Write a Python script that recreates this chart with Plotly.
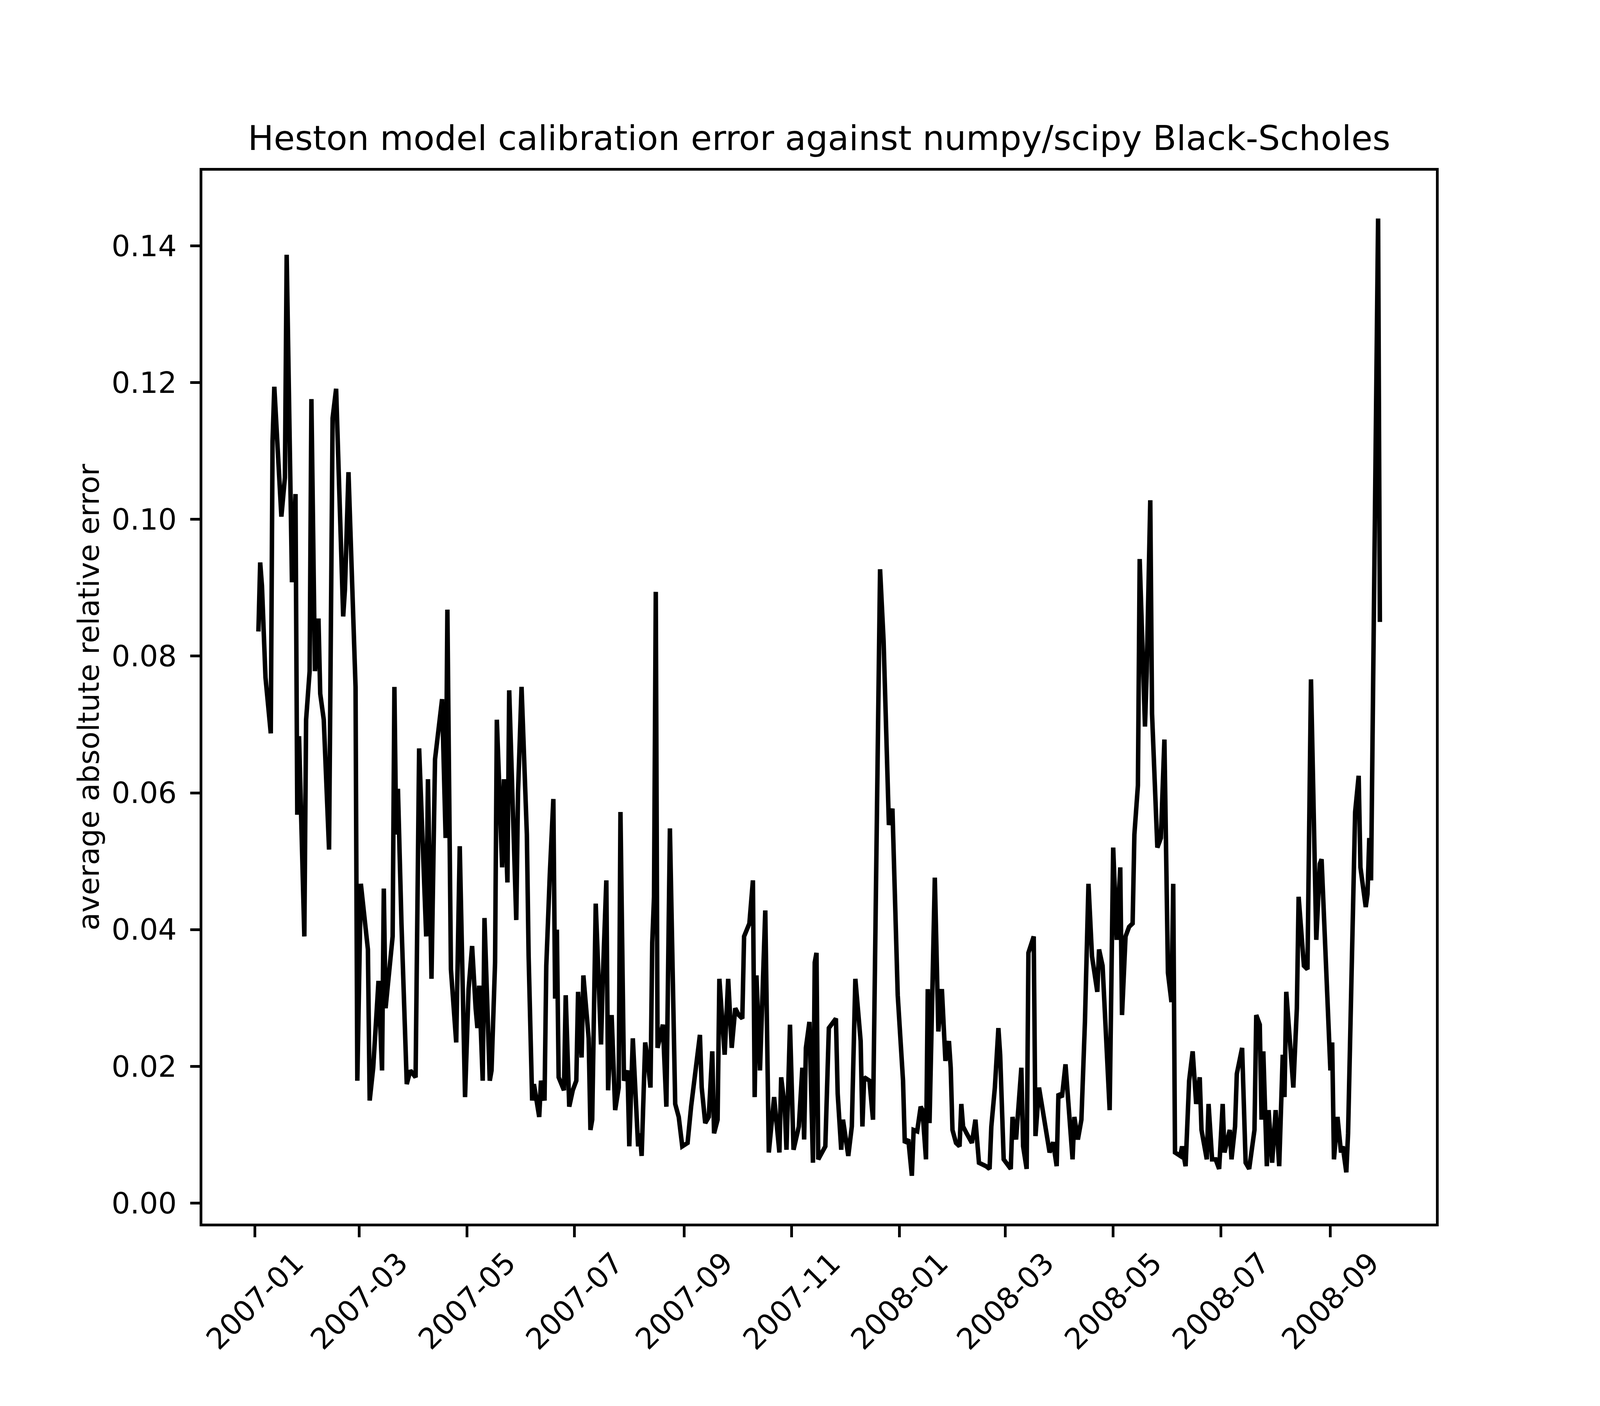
import pandas as pd
import plotly.graph_objects as go

# ================= DATA =================
# x: calendar days since 2007-01-01, y: average absolute relative error
START = "2007-01-01"

DAYS = [
    2, 3, 4, 6, 9, 10, 11, 15, 17, 18, 21, 23, 24, 25, 28, 29, 31, 32, 34, 36,
    37, 39, 42, 43, 44, 46, 50, 51, 53, 57, 58, 60, 64, 65, 67, 70, 72, 73, 74, 78,
    79, 80, 81, 83, 86, 88, 91, 93,
    97, 98, 100, 102, 104, 106, 108, 109, 111, 114, 116, 119, 121, 123, 125, 126, 127, 129, 130, 133,
    134, 136, 137, 140, 141, 143, 144, 148, 149, 151, 154, 155, 157, 158, 161, 162, 164, 165, 167, 169,
    170, 171, 172, 175, 176, 178, 180, 182, 183, 185, 186, 189, 190, 191, 193,
    196, 197, 199, 200, 202, 204, 206, 207, 209, 211, 212, 214, 217, 218, 219, 221, 222, 224, 225, 226,
    227, 228, 230, 231, 233, 235, 238, 240, 242, 245, 247, 249, 252, 253, 255, 257, 259, 260, 262, 263,
    266, 268, 270, 272, 274, 276, 277, 280, 282, 283, 284, 286, 289,
    291, 293, 294, 297, 298, 300, 301, 303, 305, 308, 310, 311, 312, 314, 316, 317, 318, 319, 321, 323,
    325, 329, 330, 332, 333, 336, 338, 339, 340, 343, 344, 345, 348, 350, 351, 352, 354, 356, 358, 359,
    361, 364, 367, 368, 370, 372, 373, 375, 377, 378, 380, 381, 382, 385, 387,
    389, 391, 393, 394, 395, 397, 399, 400, 401, 403, 406, 408, 409, 410, 414, 416, 417, 419, 421, 422,
    424, 427, 428, 429, 431, 434, 435, 437, 438, 441, 442, 444, 447, 450, 452, 454, 455, 457, 459, 461,
    463, 464, 466, 468, 470, 472, 474, 477, 478, 480, 482, 484,
    486, 488, 490, 491, 493, 495, 497, 498, 500, 501, 504, 505, 507, 508, 511, 513, 515, 517, 519, 520,
    521, 524, 525, 527, 529, 531, 533, 535, 536, 539, 540, 542, 544, 546, 548, 549, 552, 553, 555, 556,
    559, 561, 563, 566, 567, 569, 570, 571, 573, 574, 576, 578, 580, 582,
    583, 584, 588, 590, 591, 594, 596, 597, 598, 601, 603, 604, 609, 610, 611, 613, 615, 616, 618, 619,
    621, 623, 625, 626, 629, 630, 631, 632, 636, 637,
]

ERRORS = [
    0.0836, 0.0937, 0.0903, 0.0769, 0.0687, 0.1114, 0.1194, 0.1004, 0.1061, 0.1387,
    0.0908, 0.1037, 0.0568, 0.0683, 0.0390, 0.0707, 0.0778, 0.1176, 0.0778, 0.0855,
    0.0745, 0.0707, 0.0517, 0.0927, 0.1148, 0.1191, 0.0858, 0.0898, 0.1069, 0.0755,
    0.0179, 0.0467, 0.0371, 0.0150, 0.0198, 0.0325, 0.0194, 0.0460, 0.0285, 0.0390,
    0.0755, 0.0539, 0.0606, 0.0409, 0.0174, 0.0194, 0.0184, 0.0665,
    0.0390, 0.0620, 0.0328, 0.0649, 0.0692, 0.0737, 0.0534, 0.0868, 0.0342, 0.0235,
    0.0522, 0.0155, 0.0313, 0.0376, 0.0285, 0.0256, 0.0318, 0.0179, 0.0417, 0.0179,
    0.0194, 0.0352, 0.0707, 0.0491, 0.0620, 0.0469, 0.0750, 0.0414, 0.0601, 0.0755,
    0.0539, 0.0361, 0.0150, 0.0174, 0.0126, 0.0179, 0.0150, 0.0347, 0.0481, 0.0591,
    0.0299, 0.0400, 0.0184, 0.0165, 0.0304, 0.0141, 0.0165, 0.0179, 0.0309, 0.0213,
    0.0333, 0.0241, 0.0107, 0.0122, 0.0438,
    0.0232, 0.0328, 0.0472, 0.0165, 0.0275, 0.0136, 0.0169, 0.0572, 0.0179, 0.0194,
    0.0083, 0.0241, 0.0083, 0.0102, 0.0069, 0.0235, 0.0218, 0.0169, 0.0381, 0.0448,
    0.0894, 0.0227, 0.0251, 0.0261, 0.0141, 0.0548, 0.0145, 0.0126, 0.0083, 0.0088,
    0.0141, 0.0189, 0.0246, 0.0169, 0.0117, 0.0126, 0.0222, 0.0102, 0.0122, 0.0328,
    0.0217, 0.0328, 0.0227, 0.0285, 0.0275, 0.0270, 0.0390, 0.0409, 0.0472, 0.0155,
    0.0333, 0.0194, 0.0428,
    0.0074, 0.0131, 0.0155, 0.0074, 0.0184, 0.0141, 0.0078, 0.0261, 0.0078, 0.0112,
    0.0198, 0.0093, 0.0227, 0.0265, 0.0059, 0.0352, 0.0366, 0.0064, 0.0074, 0.0083,
    0.0256, 0.0270, 0.0160, 0.0078, 0.0122, 0.0069, 0.0112, 0.0256, 0.0328, 0.0237,
    0.0112, 0.0184, 0.0179, 0.0122, 0.0333, 0.0596, 0.0927, 0.0822, 0.0659, 0.0553,
    0.0577, 0.0304, 0.0179, 0.0088, 0.0093, 0.0040, 0.0107, 0.0105, 0.0141, 0.0136,
    0.0064, 0.0313, 0.0117, 0.0476, 0.0251,
    0.0313, 0.0208, 0.0237, 0.0198, 0.0107, 0.0088, 0.0083, 0.0145, 0.0112, 0.0102,
    0.0088, 0.0122, 0.0093, 0.0059, 0.0054, 0.0050, 0.0112, 0.0169, 0.0256, 0.0217,
    0.0064, 0.0054, 0.0050, 0.0126, 0.0093, 0.0198, 0.0083, 0.0050, 0.0366, 0.0390,
    0.0098, 0.0169, 0.0122, 0.0074, 0.0089, 0.0054, 0.0160, 0.0155, 0.0203, 0.0131,
    0.0064, 0.0126, 0.0093, 0.0122, 0.0265, 0.0467, 0.0361, 0.0309, 0.0371, 0.0347,
    0.0232, 0.0136,
    0.0520, 0.0385, 0.0491, 0.0275, 0.0390, 0.0404, 0.0409, 0.0539, 0.0611, 0.0942,
    0.0697, 0.0778, 0.1028, 0.0716, 0.0520, 0.0534, 0.0678, 0.0337, 0.0294, 0.0467,
    0.0074, 0.0069, 0.0083, 0.0054, 0.0179, 0.0222, 0.0145, 0.0184, 0.0107, 0.0064,
    0.0145, 0.0064, 0.0064, 0.0050, 0.0145, 0.0074, 0.0107, 0.0064, 0.0112, 0.0189,
    0.0227, 0.0059, 0.0050, 0.0107, 0.0275, 0.0261, 0.0122, 0.0222, 0.0054, 0.0136,
    0.0059, 0.0136, 0.0054, 0.0217,
    0.0155, 0.0309, 0.0169, 0.0285, 0.0448, 0.0347, 0.0342, 0.0558, 0.0766, 0.0385,
    0.0496, 0.0503, 0.0194, 0.0235, 0.0064, 0.0126, 0.0074, 0.0083, 0.0045, 0.0102,
    0.0381, 0.0572, 0.0625, 0.0491, 0.0433, 0.0452, 0.0534, 0.0472, 0.1440, 0.0850,
]

TICK_DATES = ["2007-01-01", "2007-03-01", "2007-05-01", "2007-07-01", "2007-09-01", "2007-11-01",
              "2008-01-01", "2008-03-01", "2008-05-01", "2008-07-01", "2008-09-01"]
TICK_LABELS = ["2007-01", "2007-03", "2007-05", "2007-07", "2007-09", "2007-11",
               "2008-01", "2008-03", "2008-05", "2008-07", "2008-09"]
Y_TICKS = [0.00, 0.02, 0.04, 0.06, 0.08, 0.10, 0.12, 0.14]

TITLE = "Heston model calibration error against numpy/scipy Black-Scholes"
Y_LABEL = "average absoltute relative error"

# ================= STYLE =================
# the browser viewport comes out about 4096 x 3600 css px, so the figure is laid out
# to fill that frame in the same proportions as the 4800 x 3600 original
FIG_W, FIG_H = 4076, 3572
SX = FIG_W / 4800
SY = FIG_H / 3600

FONT = "DejaVu Sans"
TICK_FONT = 75
TITLE_FONT = 88
SPINE = 6.5

# ================= BUILD =================
dates = pd.Timestamp(START) + pd.to_timedelta(DAYS, unit="D")

# matplotlib-like 5% autoscale margins
x_span = dates.max() - dates.min()
x_range = [dates.min() - 0.05 * x_span, dates.max() + 0.05 * x_span]
y_lo, y_hi = min(ERRORS), max(ERRORS)
y_pad = 0.05 * (y_hi - y_lo)
y_range = [y_lo - y_pad, y_hi + y_pad]

fig = go.Figure()
fig.add_trace(go.Scatter(x=dates, y=ERRORS, mode="lines",
                         line=dict(color="black", width=11.5), showlegend=False))

axis_style = dict(showgrid=False, zeroline=False, showline=True, linewidth=SPINE,
                  linecolor="black", mirror=True, ticks="outside",
                  tickwidth=SPINE, tickcolor="black")

fig.update_xaxes(type="date", range=x_range, tickvals=TICK_DATES,
                 showticklabels=False, ticklen=28 * SY, **axis_style)
fig.update_yaxes(range=y_range, tickvals=Y_TICKS,
                 ticktext=[f"{v:.2f}" for v in Y_TICKS],
                 tickfont=dict(size=TICK_FONT, family=FONT, color="black"),
                 ticklen=28 * SX, ticklabelstandoff=20,
                 title=dict(text=Y_LABEL, font=dict(size=TICK_FONT, family=FONT, color="black"),
                            standoff=10),
                 **axis_style)

# rotated date labels centred under each tick, like matplotlib rotation=45
for d, lab in zip(TICK_DATES, TICK_LABELS):
    fig.add_annotation(x=d, y=0, xref="x", yref="paper", text=lab, showarrow=False,
                       textangle=-45, xanchor="center", yanchor="top", yshift=-54 * SY,
                       font=dict(size=TICK_FONT, family=FONT, color="black"))

fig.update_layout(
    width=FIG_W, height=FIG_H,
    margin=dict(l=600 * SX, r=480 * SX, t=432 * SY, b=450 * SY),
    paper_bgcolor="white", plot_bgcolor="white",
    font=dict(family=FONT, color="black", size=TICK_FONT),
    title=dict(text=TITLE, font=dict(size=TITLE_FONT, family=FONT, color="black"),
               x=0.5, xref="paper", xanchor="center",
               y=1 - 348 / 3600, yref="container", yanchor="middle"),
)

fig.write_html("out.html")
